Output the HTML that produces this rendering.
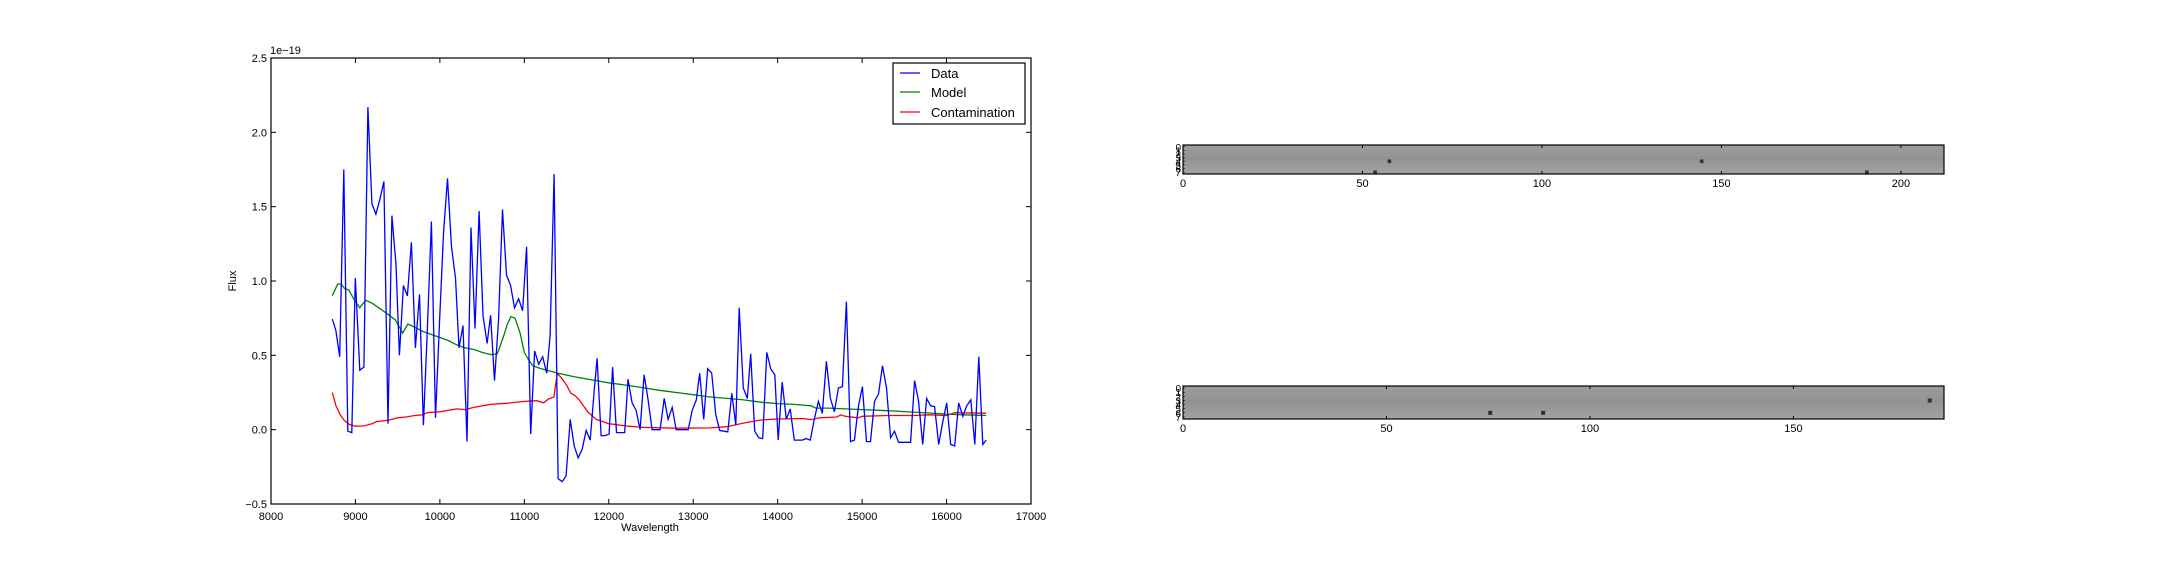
<!DOCTYPE html>
<html><head><meta charset="utf-8"><style>
html,body{margin:0;padding:0;background:#fff;}
svg{display:block;font-family:"Liberation Sans",sans-serif;}
</style></head><body>
<svg id="c" width="2160" height="576" viewBox="0 0 2160 576" xmlns="http://www.w3.org/2000/svg">
<defs><linearGradient id="gr" x1="0" y1="0" x2="0" y2="1"><stop offset="0" stop-color="#9c9c9c"/><stop offset="0.5" stop-color="#939393"/><stop offset="1" stop-color="#a4a4a4"/></linearGradient></defs>
</svg>
<script>
const dataWave=[8726,8767,8814,8862,8909,8957,8998,9052,9100,9147,9195,9242,9290,9337,9385,9432,9480,9520,9568,9615,9663,9710,9758,9805,9853,9900,9948,9995,10043,10090,10138,10185,10226,10274,10321,10369,10416,10464,10511,10559,10600,10647,10694,10742,10789,10837,10884,10932,10980,11027,11075,11122,11170,11217,11265,11305,11353,11400,11448,11495,11543,11590,11638,11685,11733,11780,11828,11862,11909,11957,12004,12045,12092,12140,12188,12228,12276,12323,12371,12418,12466,12513,12561,12608,12656,12703,12751,12798,12846,12893,12941,12988,13036,13077,13124,13172,13219,13267,13314,13362,13409,13457,13504,13545,13593,13640,13681,13728,13776,13823,13871,13918,13966,14006,14054,14102,14149,14197,14244,14292,14339,14387,14434,14482,14529,14577,14624,14672,14719,14767,14814,14862,14909,14957,15004,15052,15099,15147,15194,15242,15289,15337,15384,15432,15479,15527,15574,15622,15669,15717,15764,15812,15859,15907,15954,16002,16049,16097,16144,16192,16239,16287,16334,16382,16429,16470];
const dataFlux=[0.744,0.67,0.49,1.75,-0.01,-0.02,1.02,0.40,0.42,2.17,1.52,1.45,1.55,1.67,0.04,1.44,1.11,0.50,0.97,0.90,1.26,0.55,0.91,0.03,0.7,1.40,0.08,0.72,1.32,1.69,1.23,1.02,0.55,0.70,-0.08,1.36,0.68,1.47,0.77,0.58,0.77,0.33,0.73,1.48,1.04,0.97,0.82,0.88,0.80,1.23,-0.03,0.53,0.44,0.49,0.38,0.63,1.72,-0.33,-0.35,-0.31,0.07,-0.11,-0.19,-0.13,-0.005,-0.07,0.27,0.48,-0.04,-0.04,-0.03,0.42,-0.02,-0.02,-0.02,0.34,0.18,0.13,0.0,0.37,0.20,0.0,0.0,0.0,0.21,0.07,0.15,0.0,0.0,0.0,0.0,0.13,0.20,0.38,0.07,0.41,0.38,0.10,-0.005,-0.01,-0.015,0.245,0.03,0.82,0.28,0.21,0.51,-0.01,-0.055,-0.06,0.52,0.41,0.37,-0.07,0.32,0.07,0.14,-0.07,-0.07,-0.07,-0.06,-0.07,0.07,0.19,0.11,0.46,0.21,0.12,0.28,0.29,0.86,-0.08,-0.07,0.16,0.29,-0.08,-0.08,0.19,0.24,0.43,0.28,-0.055,-0.01,-0.085,-0.085,-0.085,-0.085,0.33,0.19,-0.10,0.21,0.16,0.155,-0.10,0.05,0.18,-0.10,-0.11,0.18,0.09,0.16,0.20,-0.10,0.49,-0.10,-0.07];
const modelWave=[8726,8790,8830,8870,8920,8970,9050,9120,9200,9300,9400,9470,9520,9560,9620,9700,9800,9900,10000,10100,10200,10250,10300,10400,10500,10600,10680,10750,10800,10840,10890,10950,11000,11050,11100,11200,11400,11600,11800,12000,12200,12400,12600,12800,13000,13200,13400,13600,13800,14000,14200,14400,14450,14600,14800,15000,15200,15400,15600,15800,16000,16200,16470];
const modelFlux=[0.90,0.98,0.98,0.95,0.94,0.89,0.82,0.87,0.85,0.81,0.77,0.74,0.69,0.65,0.71,0.69,0.66,0.64,0.62,0.60,0.57,0.56,0.55,0.54,0.52,0.505,0.51,0.62,0.71,0.76,0.75,0.65,0.52,0.47,0.43,0.41,0.38,0.355,0.335,0.315,0.30,0.283,0.265,0.25,0.235,0.22,0.21,0.20,0.185,0.175,0.17,0.16,0.145,0.145,0.14,0.135,0.13,0.125,0.118,0.112,0.105,0.10,0.095];
const contWave=[8726,8770,8820,8870,8930,9000,9100,9200,9250,9350,9400,9500,9600,9700,9800,9850,10000,10200,10300,10400,10600,10800,11000,11150,11230,11280,11350,11390,11450,11500,11550,11600,11650,11750,11850,12000,12200,12400,12800,13200,13400,13600,13800,14000,14300,14400,14500,14700,14750,14800,14950,15000,15300,15600,15800,16000,16100,16470];
const contFlux=[0.25,0.16,0.10,0.06,0.035,0.023,0.025,0.04,0.055,0.06,0.065,0.08,0.085,0.095,0.10,0.115,0.12,0.14,0.135,0.15,0.17,0.178,0.19,0.195,0.18,0.205,0.22,0.38,0.34,0.30,0.245,0.23,0.20,0.12,0.07,0.04,0.025,0.015,0.01,0.012,0.02,0.045,0.065,0.072,0.075,0.068,0.08,0.085,0.10,0.09,0.08,0.09,0.095,0.095,0.10,0.095,0.115,0.11];
const xTicks=[8000,9000,10000,11000,12000,13000,14000,15000,16000,17000];
const yTicks=[-0.5,0.0,0.5,1.0,1.5,2.0,2.5];
const yTickLabels=["\u22120.5","0.0","0.5","1.0","1.5","2.0","2.5"];
const img1Ticks=[0,50,100,150,200];
const img2Ticks=[0,50,100,150];
const imgRowLabels=[0,1,2,3,4,5,6,7];
const img1Spots=[[57,4],[144,4],[53,7],[190,7]];
const img2Spots=[[75,6],[88,6],[183,3]];

const NS="http://www.w3.org/2000/svg";
const svg=document.getElementById('c');
function mk(t,a,p){const e=document.createElementNS(NS,t);for(const k in a)e.setAttribute(k,a[k]);(p||svg).appendChild(e);return e;}
const L=271,R=1031,T=58,B=504;
const sx=v=>L+(v-8000)/9000*(R-L);
const sy=v=>B-(v+0.5)/3*(B-T);

const plot=mk('g',{});


function line(xs,ys,color,name){
  let d='';xs.forEach((x,i)=>{d+=(i?'L':'M')+sx(x).toFixed(1)+' '+sy(ys[i]).toFixed(1);});
  const p=mk('path',{d:d,fill:'none',stroke:color,'stroke-width':1.3},plot);
  
  
}
line(contWave,contFlux,'#ff0000','contamination-line');
line(modelWave,modelFlux,'#008000','model-line');
line(dataWave,dataFlux,'#0000ff','data-line');
const fr=mk('rect',{x:L,y:T,width:R-L,height:B-T,fill:'none',stroke:'#000','stroke-width':1.2},plot);


xTicks.forEach(v=>{
  const x=sx(v);
  mk('line',{x1:x,x2:x,y1:B,y2:B-5,stroke:'#000'},plot);
  mk('line',{x1:x,x2:x,y1:T,y2:T+5,stroke:'#000'},plot);
  const t=mk('text',{x:x,y:B+16,'font-size':11,'text-anchor':'middle'},plot);
  t.textContent=v;
  
  
});
yTicks.forEach((v,i)=>{
  const y=sy(v);
  mk('line',{x1:L,x2:L+5,y1:y,y2:y,stroke:'#000'},plot);
  mk('line',{x1:R,x2:R-5,y1:y,y2:y,stroke:'#000'},plot);
  const t=mk('text',{x:L-4,y:y+4,'font-size':11,'text-anchor':'end'},plot);
  t.textContent=yTickLabels[i];
  
  
});
let t=mk('text',{x:270,y:54,'font-size':11},plot);t.textContent='1e\u221219';


t=mk('text',{x:650,y:531,'font-size':11,'text-anchor':'middle'},plot);t.textContent='Wavelength';


t=mk('text',{x:236,y:281,'font-size':11,'text-anchor':'middle',transform:'rotate(-90 236 281)'},plot);t.textContent='Flux';



const lg=mk('g',{});


mk('rect',{x:893,y:63,width:132,height:61,fill:'#fff',stroke:'#000','stroke-width':1.2},lg);
[['Data','#0000ff',73],['Model','#008000',92],['Contamination','#ff0000',112]].forEach(e=>{
  mk('line',{x1:900,x2:920,y1:e[2],y2:e[2],stroke:e[1],'stroke-width':1.3},lg);
  const tx=mk('text',{x:931,y:e[2]+5,'font-size':13},lg);tx.textContent=e[0];
  
  
});

function image(x0,y0,w,h,ncols,ticks,spots,name){
  const g=mk('g',{});
  
  
  const cw=w/ncols, rh=h/8;
  mk('rect',{x:x0,y:y0,width:w,height:h,fill:'url(#gr)'},g);
  spots.forEach(s=>{
    const c=mk('rect',{x:x0+s[0]*cw,y:y0+s[1]*rh,width:cw,height:rh,fill:'#333'},g);
    
    
  });
  mk('rect',{x:x0,y:y0,width:w,height:h,fill:'none',stroke:'#000','stroke-width':1.2},g);
  ticks.forEach(v=>{
    const x=x0+v*cw;
    mk('line',{x1:x,x2:x,y1:y0+h,y2:y0+h-3,stroke:'#000'},g);
    mk('line',{x1:x,x2:x,y1:y0,y2:y0+3,stroke:'#000'},g);
    const tt=mk('text',{x:x,y:y0+h+13,'font-size':11,'text-anchor':'middle'},g);tt.textContent=v;
    
    
  });
  imgRowLabels.forEach(r=>{
    const y=y0+(r+0.5)*rh;
    mk('line',{x1:x0,x2:x0+2,y1:y,y2:y,stroke:'#000','stroke-width':0.6},g);
    const yl=mk('text',{x:x0-2,y:y+4,'font-size':10,'text-anchor':'end'},g);
    yl.textContent=r;
    
    
  });
}
image(1183,145,761,29,212,img1Ticks,img1Spots,'spectrum-image-1');
image(1183,386,761,33,187,img2Ticks,img2Spots,'spectrum-image-2');
</script>
</body></html>
